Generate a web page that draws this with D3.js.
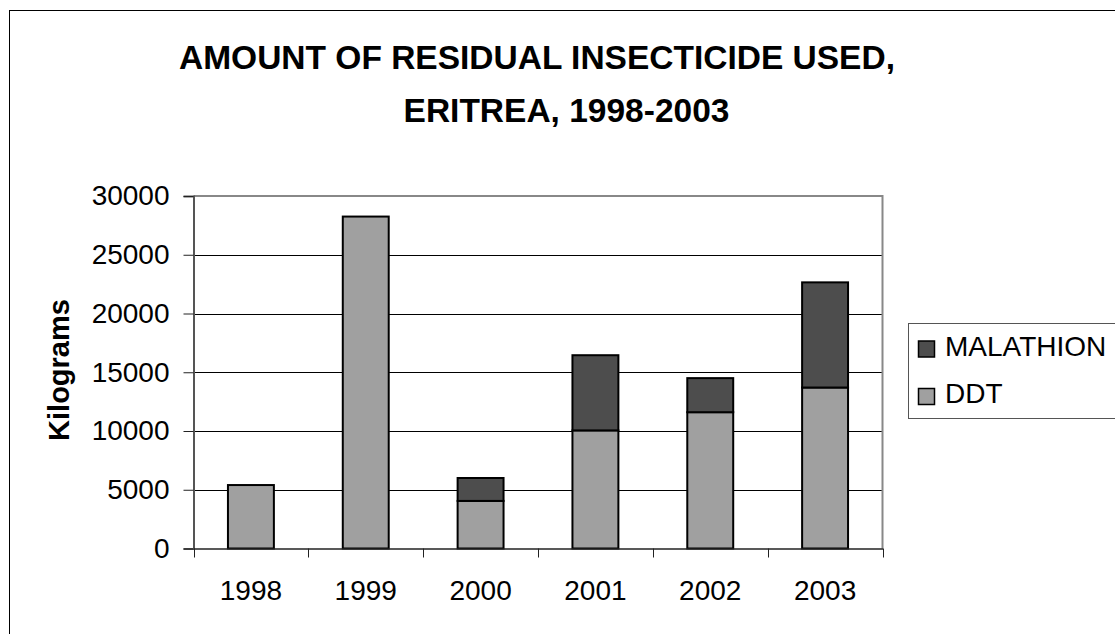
<!DOCTYPE html>
<html>
<head>
<meta charset="utf-8">
<script src="https://cdn.jsdelivr.net/npm/d3@7"></script>
<style>
  body { margin: 0; background: #fff; }
  text { font-family: "Liberation Sans", Arial, sans-serif; fill: #000; }
</style>
</head>
<body>
<div id="chart"></div>
<script>
// data
var years = ["1998", "1999", "2000", "2001", "2002", "2003"];
var ddt = [5400, 28250, 4050, 10050, 11600, 13700];
var malathion = [0, 0, 1950, 6400, 2900, 8950];
var yTicks = [0, 5000, 10000, 15000, 20000, 25000, 30000];
var seriesNames = ["DDT", "MALATHION"];
var seriesColors = ["#a0a0a0", "#4d4d4d"];

var width = 1115, height = 634;
var plot = { left: 193.5, right: 882.5, top: 196, bottom: 548.5 };

var svg = d3.select("#chart").append("svg")
    .attr("width", width)
    .attr("height", height);

// outer chart border (runs off the picture on the right and bottom)
svg.append("rect")
    .attr("x", 9.5).attr("y", 10.5)
    .attr("width", 1200).attr("height", 700)
    .attr("fill", "none").attr("stroke", "#000").attr("stroke-width", 1);

// title
var title = svg.append("text")
    .attr("font-size", 33.5)
    .attr("font-weight", "bold")
    .attr("text-anchor", "middle");
title.append("tspan").attr("x", 537).attr("y", 68.5).text("AMOUNT OF RESIDUAL INSECTICIDE USED,");
title.append("tspan").attr("x", 566.5).attr("y", 121.5).text("ERITREA, 1998-2003");

var y = d3.scaleLinear().domain([0, 30000]).range([plot.bottom, plot.top]);
var xCat = d3.scaleBand().domain(years).range([plot.left, plot.right]).padding(0);
var xBar = d3.scaleBand().domain(years).range([plot.left, plot.right])
    .paddingInner(0.6).paddingOuter(0.3);

// gridlines
svg.append("g").selectAll("line")
    .data(yTicks.filter(function (d) { return d > 0 && d < 30000; }))
    .enter().append("line")
    .attr("x1", plot.left).attr("x2", plot.right)
    .attr("y1", function (d) { return Math.round(y(d)) + 0.5; })
    .attr("y2", function (d) { return Math.round(y(d)) + 0.5; })
    .attr("stroke", "#000").attr("stroke-width", 1);

// plot frame top and right
svg.append("path")
    .attr("d", "M" + plot.left + "," + plot.top + "H" + plot.right + "V" + plot.bottom)
    .attr("fill", "none").attr("stroke", "#888").attr("stroke-width", 2);

// stacked bars
var stack = d3.stack().keys(seriesNames);
var rows = years.map(function (yr, i) { return { year: yr, DDT: ddt[i], MALATHION: malathion[i] }; });
var layers = stack(rows);

svg.append("g").selectAll("g")
    .data(layers)
    .enter().append("g")
    .attr("fill", function (d, i) { return seriesColors[i]; })
    .selectAll("rect")
    .data(function (d) { return d.filter(function (p) { return p[1] - p[0] > 0; }); })
    .enter().append("rect")
    .attr("x", function (d) { return xBar(d.data.year); })
    .attr("y", function (d) { return y(d[1]); })
    .attr("width", xBar.bandwidth())
    .attr("height", function (d) { return y(d[0]) - y(d[1]); })
    .attr("stroke", "#000")
    .attr("stroke-width", 2);

// y axis
var yAxis = svg.append("g")
    .attr("transform", "translate(" + plot.left + ",0)")
    .call(d3.axisLeft(y).tickValues(yTicks).tickSize(10).tickPadding(14).tickFormat(d3.format("d")));
yAxis.selectAll("text").attr("font-size", 28).attr("font-family", "Liberation Sans, Arial, sans-serif");
yAxis.selectAll("line").attr("stroke", "#222");
yAxis.select(".domain").attr("stroke", "#555").attr("stroke-width", 2);

// x axis: labels centred, ticks on category boundaries
var xAxis = svg.append("g")
    .attr("transform", "translate(0," + plot.bottom + ")")
    .call(d3.axisBottom(xCat).tickSize(0).tickPadding(32));
xAxis.selectAll("text").attr("font-size", 28).attr("font-family", "Liberation Sans, Arial, sans-serif");
xAxis.select(".domain").attr("stroke", "#222").attr("stroke-width", 1.5);
xAxis.selectAll(".bound")
    .data(d3.range(years.length + 1))
    .enter().append("line")
    .attr("class", "bound")
    .attr("x1", function (i) { return Math.round(plot.left + i * xCat.step()) + 0.5; })
    .attr("x2", function (i) { return Math.round(plot.left + i * xCat.step()) + 0.5; })
    .attr("y1", 0).attr("y2", 9)
    .attr("stroke", "#222");

// y axis title
svg.append("text")
    .attr("transform", "translate(69,370) rotate(-90)")
    .attr("text-anchor", "middle")
    .attr("font-size", 29)
    .attr("font-weight", "bold")
    .text("Kilograms");

// legend
var legend = svg.append("g");
legend.append("rect")
    .attr("x", 908.5).attr("y", 323.5)
    .attr("width", 300).attr("height", 95)
    .attr("fill", "#fff").attr("stroke", "#555").attr("stroke-width", 1);

var legendItems = [
    { name: seriesNames[1], color: seriesColors[1] },
    { name: seriesNames[0], color: seriesColors[0] }
];
var item = legend.selectAll(".item")
    .data(legendItems)
    .enter().append("g")
    .attr("transform", function (d, i) { return "translate(0," + (i * 47.5) + ")"; });
item.append("rect")
    .attr("x", 918.5).attr("y", 341)
    .attr("width", 16).attr("height", 16)
    .attr("fill", function (d) { return d.color; })
    .attr("stroke", "#000").attr("stroke-width", 1.5);
item.append("text")
    .attr("x", 945).attr("y", 355.5)
    .attr("font-size", 28)
    .text(function (d) { return d.name; });
</script>
</body>
</html>
